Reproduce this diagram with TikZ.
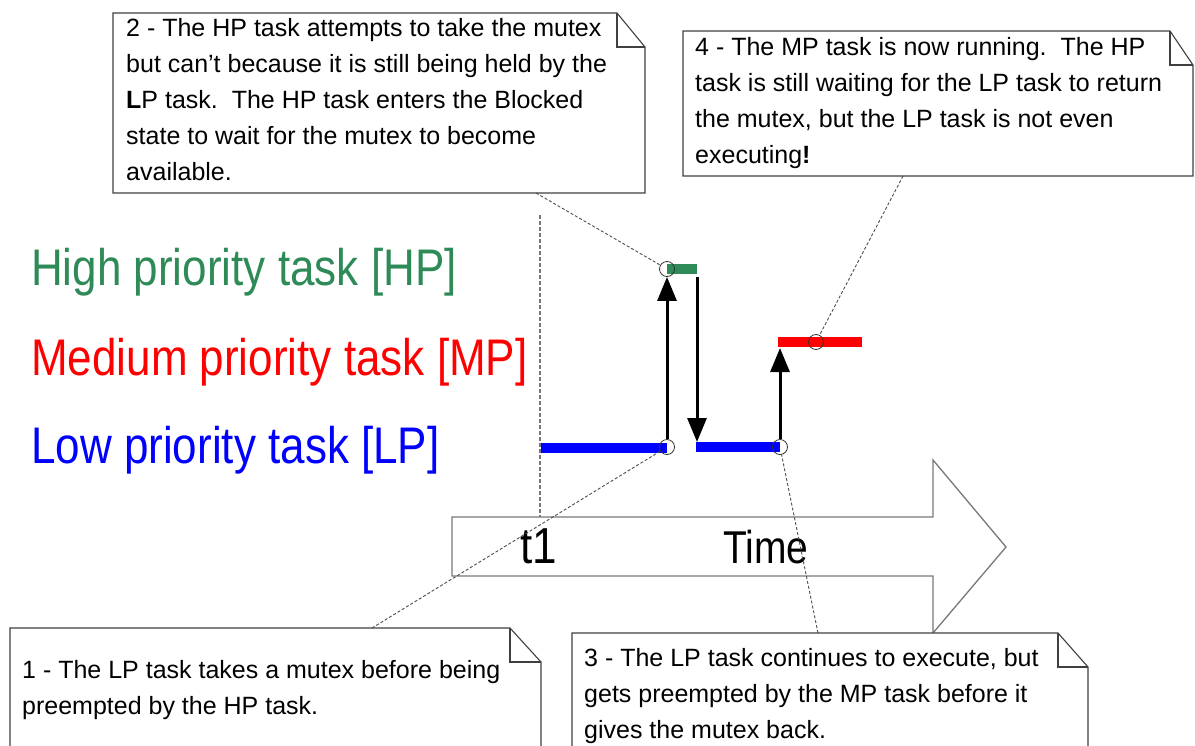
\documentclass[tikz,border=0pt]{standalone}
\usepackage{fontspec}
\setmainfont{Liberation Sans}
\usetikzlibrary{arrows.meta}
\definecolor{hpgreen}{RGB}{46,139,87}
\definecolor{mpred}{RGB}{255,0,0}
\definecolor{lpblue}{RGB}{0,0,255}
\definecolor{edgegray}{RGB}{120,120,120}
\tikzset{
  notebox/.style={draw=black!75, line width=1.1pt, fill=white},
  notetext/.style={anchor=base west, inner sep=0pt, align=left,
    font=\fontsize{25}{36}\selectfont},
  biglabel/.style={anchor=base west, inner sep=0pt},
  bar/.style={line width=10pt},
  ring/.style={circle, draw=black!80, line width=0.8pt, minimum size=15pt, inner sep=0pt},
  flow/.style={line width=3pt, -{Triangle[length=24pt, width=19pt]}},
  leader/.style={draw=black!70, line width=0.9pt, dash pattern=on 3pt off 2pt},
  tick/.style={draw=edgegray, line width=1.6pt, dash pattern=on 4pt off 2pt},
  timearrow/.style={draw=edgegray, line width=1.3pt, fill=white},
}
\newcommand\notepath[5]{% x1 y1 x2 y2 foldx
  \draw[notebox] (#1,#2) -- (#5,#2) -- (#3,#2+34) -- (#3,#4) -- (#1,#4) -- cycle;
  \draw[notebox, fill=none] (#5,#2) -- (#5,#2+34) -- (#3,#2+34);
}
\begin{document}
\begin{tikzpicture}[x=1pt,y=-1pt]
\useasboundingbox (0,0) rectangle (1195,745);
\clip (0,0) rectangle (1195,745);

% t1 marker
\draw[tick] (540,215) -- (540,517);

% Time arrow
\draw[timearrow] (452,517) -- (933,517) -- (933,460) -- (1006,547) -- (933,633) -- (933,576) -- (452,576) -- cycle;
\node[anchor=base west, inner sep=0pt] (t1) at (520,563) {\scalebox{1}[1.15]{\fontsize{44}{44}\selectfont t1}};
\node[anchor=base west, inner sep=0pt] (time) at (723,563) {\scalebox{1}[1.18]{\fontsize{39}{39}\selectfont Time}};

% Labels
\node[biglabel, text=hpgreen] (hp) at (31,285) {\scalebox{1}[1.17]{\fontsize{44}{50}\selectfont High priority task [HP]}};
\node[biglabel, text=mpred] (mp) at (31,375) {\scalebox{1}[1.17]{\fontsize{44}{50}\selectfont Medium priority task [MP]}};
\node[biglabel, text=lpblue] (lp) at (31,463) {\scalebox{1}[1.17]{\fontsize{44}{50}\selectfont Low priority task [LP]}};

% Bars
\draw[bar, lpblue] (541,448) -- (667,448);
\draw[bar, hpgreen] (667,269) -- (697,269);
\draw[bar, lpblue] (696,447) -- (780,447);
\draw[bar, mpred] (778,342) -- (862,342);

% Event points
\node[ring] (e1) at (667,447) {};
\node[ring] (e2) at (667,269) {};
\node[ring] (e3) at (780,447) {};
\node[ring] (e4) at (816,342) {};
\coordinate (hpdone) at (697,277);
\coordinate (lpback) at (697,442);
\coordinate (mpstart) at (780,348);

% Flow arrows
\draw[flow] (e1) -- (e2);
\draw[flow] (hpdone) -- (lpback);
\draw[flow] (e3) -- (mpstart);

% Callouts
\notepath{113}{13}{645}{193}{617}
\node[notetext] (n2) at (126,180) {2 - The HP task attempts to take the mutex\\but can't because it is still being held by the\\\textbf{L}P task.\ \ The HP task enters the Blocked\\state to wait for the mutex to become\\available.};
\coordinate (n2a) at (536,193);

\notepath{683}{31}{1193}{176}{1170}
\node[notetext] (n4) at (695,163) {4 - The MP task is now running.\ \ The HP\\task is still waiting for the LP task to return\\the mutex, but the LP task is not even\\executing\textbf{!}};
\coordinate (n4a) at (903,176);

\notepath{10}{628}{541}{760}{510}
\node[notetext] (n1) at (22,714) {1 - The LP task takes a mutex before being\\preempted by the HP task.};
\coordinate (n1a) at (372,628);

\notepath{572}{633}{1088}{760}{1058}
\node[notetext] (n3) at (584,738) {3 - The LP task continues to execute, but\\gets preempted by the MP task before it\\gives the mutex back.};
\coordinate (n3a) at (818,633);

% Leaders
\draw[leader] (n2a) -- (e2);
\draw[leader] (n4a) -- (e4);
\draw[leader] (n1a) -- (e1);
\draw[leader] (n3a) -- (e3);
\end{tikzpicture}
\end{document}
